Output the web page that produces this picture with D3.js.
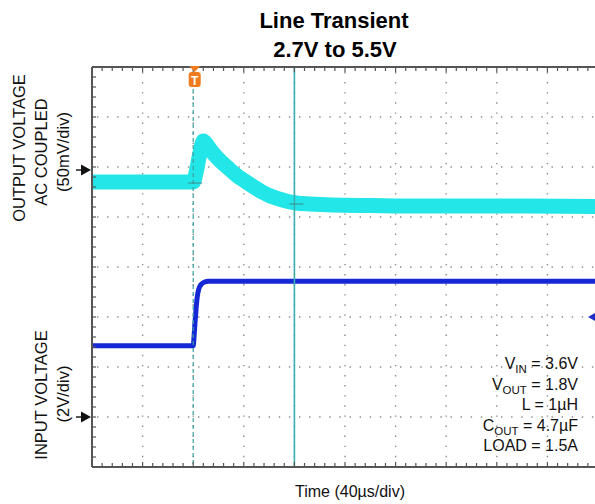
<!DOCTYPE html>
<html>
<head>
<meta charset="utf-8">
<script src="https://cdn.jsdelivr.net/npm/d3@7.9.0/dist/d3.min.js"></script>
<style>
  body { margin: 0; background: #fff; }
  svg { display: block; font-family: "Liberation Sans", Arial, sans-serif; }
</style>
</head>
<body>
<svg id="chart" width="595" height="504"></svg>
<script>
// ---- data read off the scope shot ----
// time in µs, trigger at 0 (40µs/div)
const outTime = [-80, 0, 2, 5, 8, 11, 15, 20, 28.5, 35, 42, 48, 54.5, 61, 68, 75, 81.5, 92, 110, 140, 180, 250, 320];
// output voltage, AC coupled, mV relative to channel marker (50mV/div)
const outMv = [-12, -12, -4, 15, 29, 25, 18, 11, 1, -6, -12, -17, -22, -26, -29, -31.5, -33, -34, -35, -35.5, -36, -36, -36.5];

const inTime = [-80, 0, 0.8, 1.6, 2.4, 3.2, 4.2, 5.5, 7, 9, 12, 320];
// input voltage, V (2V/div)
const inV = [2.85, 2.85, 3.3, 3.9, 4.4, 4.8, 5.08, 5.25, 5.34, 5.4, 5.43, 5.43];

const cursorTime = 80;
const notes = [
  ["V", "IN", " = 3.6V"],
  ["V", "OUT", " = 1.8V"],
  ["L = 1µH", "", ""],
  ["C", "OUT", " = 4.7µF"],
  ["LOAD = 1.5A", "", ""]
];

// ---- layout ----
const L = 92, R = 598, T = 67, B = 467;
const svg = d3.select("#chart");

const x = d3.scaleLinear().domain([-80, 320]).range([L, R]);
const yDiv = d3.scaleLinear().domain([0, 8]).range([B, T]);
// channel offsets in divisions (marker arrows)
const outMark = 5.94, inMark = 1;
const yOut = d3.scaleLinear().domain([-50 * outMark, 50 * (8 - outMark)]).range([B, T]);
const yIn = d3.scaleLinear().domain([-2 * inMark, 2 * (8 - inMark)]).range([B, T]);

// ---- dotted graticule ----
const grid = svg.append("g").attr("stroke", "#8a8a8a").attr("stroke-width", 1.4)
  .attr("stroke-dasharray", "1.4,8.7");
d3.range(1, 10).forEach(i => {
  const gx = x(-80 + i * 40);
  grid.append("line").attr("x1", gx).attr("x2", gx).attr("y1", T + 5).attr("y2", B);
});
d3.range(1, 8).forEach(i => {
  grid.append("line").attr("x1", L + 5).attr("x2", R).attr("y1", yDiv(i)).attr("y2", yDiv(i));
});

// ---- traces ----
const outLine = d3.line().x((d, i) => x(outTime[i])).y(d => yOut(d)).curve(d3.curveMonotoneX);
svg.append("path").attr("d", outLine(outMv))
  .attr("fill", "none").attr("stroke", "#22e6e8").attr("stroke-width", 15);

const inLine = d3.line().x((d, i) => x(inTime[i])).y(d => yIn(d)).curve(d3.curveMonotoneX);
svg.append("path").attr("d", inLine(inV))
  .attr("fill", "none").attr("stroke", "#1428d6").attr("stroke-width", 5);

// trigger (dashed) and cursor (solid)
svg.append("line").attr("x1", x(0)).attr("x2", x(0)).attr("y1", T + 22).attr("y2", B)
  .attr("stroke", "#3a9e9e").attr("stroke-width", 1.2).attr("stroke-dasharray", "4,3");
svg.append("line").attr("x1", x(cursorTime)).attr("x2", x(cursorTime)).attr("y1", T).attr("y2", B)
  .attr("stroke", "#3aaeb0").attr("stroke-width", 1.6);

// small cursor crossing marks on the output trace
[[0, -12], [cursorTime, -33]].forEach(([t, v]) => {
  svg.append("line").attr("x1", x(t) - 5).attr("x2", x(t) + 9).attr("y1", yOut(v) + 1).attr("y2", yOut(v) + 1)
    .attr("stroke", "#3a8a8a").attr("stroke-width", 1);
});

// ---- frame with minor ticks ----
const frame = svg.append("g").attr("stroke", "#555");
frame.append("line").attr("x1", L).attr("x2", R).attr("y1", T).attr("y2", T).attr("stroke-width", 2);
frame.append("line").attr("x1", L).attr("x2", R).attr("y1", B).attr("y2", B).attr("stroke-width", 2);
frame.append("line").attr("x1", L).attr("x2", L).attr("y1", T).attr("y2", B).attr("stroke-width", 2);
const minorX = d3.range(0, 51).map(i => L + i * (R - L) / 50);
minorX.forEach((mx, i) => {
  const len = i % 5 === 0 ? 5 : 4;
  frame.append("line").attr("x1", mx).attr("x2", mx).attr("y1", T).attr("y2", T + len).attr("stroke-width", 1.2);
  frame.append("line").attr("x1", mx).attr("x2", mx).attr("y1", B).attr("y2", B - len).attr("stroke-width", 1.2);
});
d3.range(0, 41).forEach(i => {
  const my = T + i * (B - T) / 40;
  frame.append("line").attr("x1", L).attr("x2", L + 4).attr("y1", my).attr("y2", my).attr("stroke-width", 1.2);
});

// ---- channel marker arrows ----
function arrowRight(yy) {
  svg.append("line").attr("x1", 76).attr("x2", 83).attr("y1", yy).attr("y2", yy).attr("stroke", "#111").attr("stroke-width", 1.4);
  svg.append("path").attr("d", `M81,${yy - 5.5}L91,${yy}L81,${yy + 5.5}Z`).attr("fill", "#111");
}
arrowRight(yOut(0));
arrowRight(yIn(0));

// trigger level marker on the right
const trigY = yIn(4);
svg.append("path").attr("d", `M596,${trigY - 4.5}L588,${trigY}L596,${trigY + 4.5}Z`).attr("fill", "#1e2fc8");

// trigger position badge
const tx = x(0) + 1.5;
svg.append("path").attr("d", `M${tx - 5.5},${T - 1}L${tx + 5.5},${T - 1}L${tx},${T + 5}Z`).attr("fill", "#f07a1e");
svg.append("rect").attr("x", tx - 6).attr("y", T + 5).attr("width", 12).attr("height", 15).attr("rx", 3)
  .attr("fill", "#f07a1e");
svg.append("text").attr("x", tx).attr("y", T + 17.5).attr("text-anchor", "middle")
  .attr("font-size", 12).attr("font-weight", "bold").attr("fill", "#fff").text("T");

// ---- titles and labels ----
svg.append("text").attr("x", 334).attr("y", 28).attr("text-anchor", "middle")
  .attr("font-size", 22).attr("font-weight", "bold").text("Line Transient");
svg.append("text").attr("x", 335).attr("y", 57).attr("text-anchor", "middle")
  .attr("font-size", 22).attr("font-weight", "bold").text("2.7V to 5.5V");

function vLabel(cx, cy, txt) {
  svg.append("text").attr("transform", `translate(${cx},${cy}) rotate(-90)`)
    .attr("text-anchor", "middle").attr("dominant-baseline", "central")
    .attr("font-size", 16.5).attr("fill", "#111").text(txt);
}
vLabel(19, 148, "OUTPUT VOLTAGE");
vLabel(41, 152, "AC COUPLED");
vLabel(63, 152, "(50mV/div)");
vLabel(41, 395, "INPUT VOLTAGE");
vLabel(63, 394, "(2V/div)");

svg.append("text").attr("x", 350).attr("y", 497).attr("text-anchor", "middle")
  .attr("font-size", 16).attr("fill", "#111").text("Time (40µs/div)");

// parameter block, right aligned
notes.forEach((n, i) => {
  const t = svg.append("text").attr("x", 578).attr("y", 369 + i * 20.6)
    .attr("text-anchor", "end").attr("font-size", 16).attr("fill", "#111");
  t.append("tspan").text(n[0]);
  if (n[1]) {
    t.append("tspan").attr("font-size", 11.5).attr("dy", 4).text(n[1]);
    t.append("tspan").attr("dy", -4).text(n[2]);
  }
});
</script>
</body>
</html>
